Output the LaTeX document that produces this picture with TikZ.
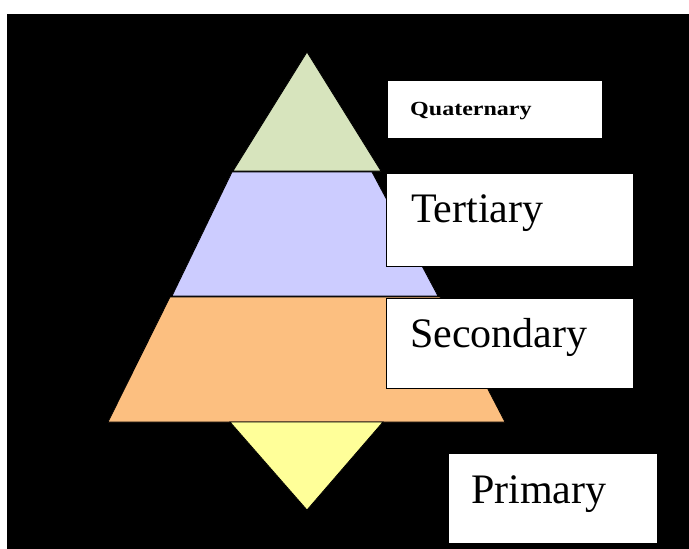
\documentclass[tikz,border=0pt]{standalone}
\usepackage{fontspec}
\setmainfont{Liberation Serif}
\definecolor{tgreen}{HTML}{D7E4BD}
\definecolor{tpurple}{HTML}{CCCCFF}
\definecolor{torange}{HTML}{FCBF80}
\definecolor{tyellow}{HTML}{FFFF99}
\begin{document}
\begin{tikzpicture}[x=1pt,y=-1pt,
  layer/.style={draw=black,line width=0.8pt,line join=miter},
  labelbox/.style={fill=white,draw=black,line width=0.8pt},
  lbl/.style={anchor=base west,inner sep=0pt,font=\fontsize{42}{42}\selectfont}]
\useasboundingbox (0,0) rectangle (689,549);
\fill[white] (0,0) rectangle (689,549);
\fill[black] (7,14) rectangle (689,549);
% pyramid layers
\coordinate (gA) at (307,52);
\filldraw[layer,fill=tgreen] (gA) -- (381,171) -- (233,171) -- cycle;
\filldraw[layer,fill=tpurple] (232,172) -- (372,172) -- (438,296) -- (172,296) -- cycle;
\filldraw[layer,fill=torange] (170,297) -- (440,297) -- (505,422) -- (108,422) -- cycle;
\filldraw[layer,fill=tyellow] (230,422) -- (383,422) -- (307,510) -- cycle;
% boxes
\path[labelbox] (387,80) rectangle (602,138);
\path[labelbox] (386,173) rectangle (633,266);
\path[labelbox] (386,298) rectangle (633,388);
\path[labelbox] (448,453) rectangle (657,543);
% labels
\node[anchor=base west,inner sep=0pt,font=\fontsize{20}{20}\selectfont\bfseries,xscale=1.2] (q) at (410,115) {Quaternary};
\node[lbl] (t) at (411,222) {Tertiary};
\node[lbl] (s) at (410,347) {Secondary};
\node[lbl] (p) at (471,503) {Primary};
\end{tikzpicture}
\end{document}
